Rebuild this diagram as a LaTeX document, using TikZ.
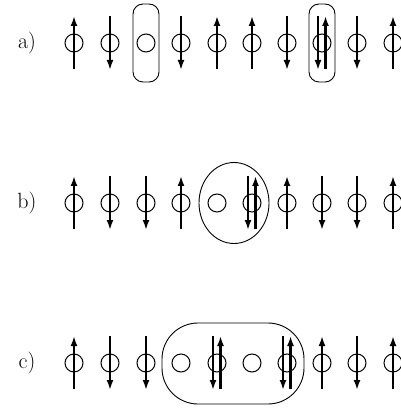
\documentclass[tikz,border=0pt]{standalone}
\usepackage{fontspec}
\usetikzlibrary{arrows.meta,shapes.geometric}

\tikzset{
  site/.style={circle, draw, line width=1pt, minimum size=18pt, inner sep=0pt},
  spin/.style={line width=2.2pt, -{Latex[length=10pt,width=7pt]}},
  enclosure/.style={draw, line width=0.9pt, inner sep=0pt},
  rowlabel/.style={inner sep=0pt, font=\fontsize{22}{26}\selectfont},
}

% \spinup / \spindown: a vertical spin arrow through the centre of a site
\newcommand{\spinup}[2][0pt]{%
  \draw[spin] ([xshift=#1,yshift=-26pt]#2.center) -- ([xshift=#1,yshift=27pt]#2.center);}
\newcommand{\spindown}[2][0pt]{%
  \draw[spin] ([xshift=#1,yshift=27pt]#2.center) -- ([xshift=#1,yshift=-27pt]#2.center);}

% one chain of sites; code 1 = up, -1 = down, 0 = hole, 2 = doubly occupied
\newcommand{\chainrow}[3]{%
  \foreach \x/\k [count=\i] in {#3} {
    \node[site] (#1\i) at (\x,#2) {};
    \ifnum\k=1 \spinup{#1\i}\fi
    \ifnum\k=-1 \spindown{#1\i}\fi
    \ifnum\k=2 \spindown[-4pt]{#1\i}\spinup[3.5pt]{#1\i}\fi
  }}

\begin{document}
\begin{tikzpicture}[x=1pt,y=-1pt]
  \useasboundingbox (0,0) rectangle (400,411);

  % a) two separated holes/doublons
  \node[rowlabel] (la) at (27,43) {a)};
  \chainrow{a}{43}{74/1,110/-1,146/0,181/-1,217/1,252/1,287/-1,322/2,357/-1,393/1}
  \node[enclosure, rounded corners=10pt, minimum width=26pt, minimum height=78pt] (ea1) at (a3) {};
  \node[enclosure, rounded corners=10pt, minimum width=26pt, minimum height=78pt] (ea2) at (a8) {};

  % b) a bound hole-doublon pair
  \node[rowlabel] (lb) at (27,203) {b)};
  \chainrow{b}{203}{74/1,110/-1,146/-1,181/1,217/0,252/2,287/1,322/-1,357/-1,393/1}
  \node[enclosure, ellipse, minimum width=70pt, minimum height=81pt] (eb) at (234,203) {};

  % c) two neighbouring pairs
  \node[rowlabel] (lc) at (27,363) {c)};
  \chainrow{c}{363}{74/1,110/-1,146/-1,181/0,217/2,252/0,287/2,322/1,357/-1,393/1}
  \node[enclosure, rounded corners=36pt, minimum width=142pt, minimum height=81pt] (ec) at (233,363.5) {};
\end{tikzpicture}
\end{document}
